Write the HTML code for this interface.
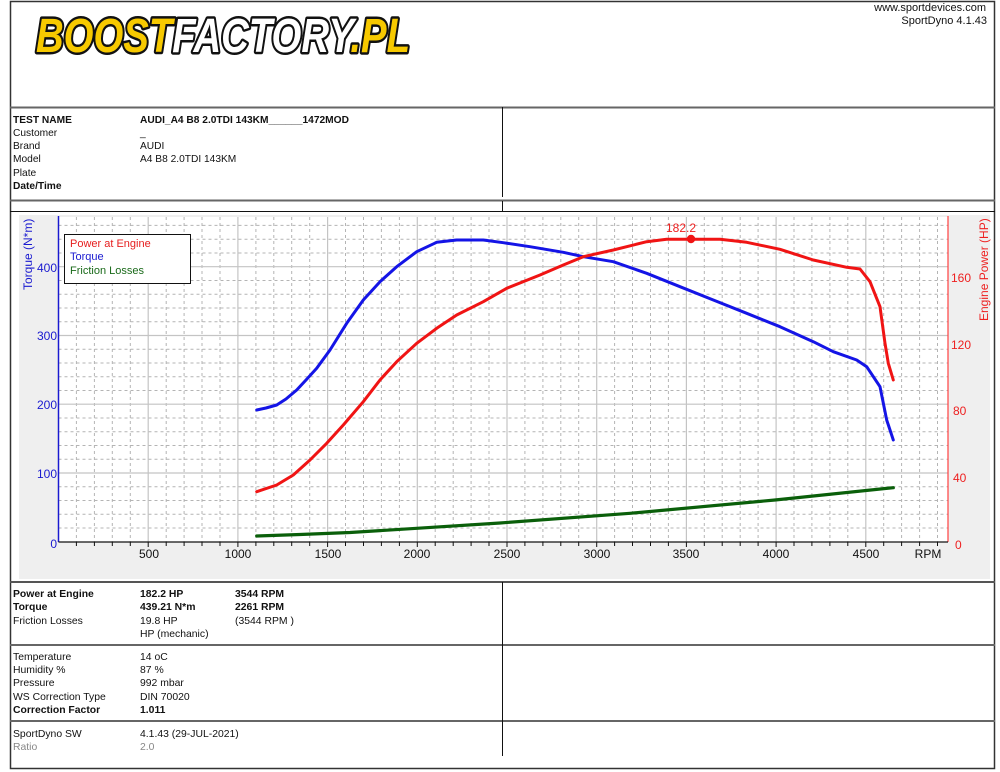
<!DOCTYPE html>
<html><head><meta charset="utf-8"><style>
html,body{margin:0;padding:0;background:#fff;}
svg{display:block;}
text{font-family:"Liberation Sans",sans-serif;}
</style></head><body>
<svg width="1000" height="772" viewBox="0 0 1000 772" xmlns="http://www.w3.org/2000/svg">
<rect x="0" y="0" width="1000" height="772" fill="#fff"/>
<!-- Logo -->
<text x="36" y="52" font-size="48" font-weight="bold" font-style="italic" textLength="374" lengthAdjust="spacingAndGlyphs" stroke="#111" stroke-width="5" stroke-linejoin="round" paint-order="stroke"><tspan fill="#f7c900">BOOST</tspan><tspan fill="#ffffff">FACTORY</tspan><tspan fill="#f7c900">.PL</tspan></text>
<text x="986" y="11" font-size="11" text-anchor="end" fill="#111">www.sportdevices.com</text>
<text x="987" y="24" font-size="11" text-anchor="end" fill="#111">SportDyno 4.1.43</text>

<!-- chart grey panel -->
<rect x="19" y="215" width="971" height="364" fill="#efefef"/>
<rect x="58.5" y="217" width="889.5" height="325" fill="#fff"/>
<g stroke="#b4b4b4" stroke-width="1" stroke-dasharray="3,3" fill="none">
<path d="M76.4 217V542M94.4 217V542M112.3 217V542M130.3 217V542M166.2 217V542M184.1 217V542M202.0 217V542M220.0 217V542M255.9 217V542M273.8 217V542M291.7 217V542M309.7 217V542M345.5 217V542M363.5 217V542M381.4 217V542M399.4 217V542M435.2 217V542M453.2 217V542M471.1 217V542M489.0 217V542M524.9 217V542M542.9 217V542M560.8 217V542M578.7 217V542M614.6 217V542M632.5 217V542M650.5 217V542M668.4 217V542M704.3 217V542M722.2 217V542M740.2 217V542M758.1 217V542M794.0 217V542M811.9 217V542M829.9 217V542M847.8 217V542M883.7 217V542M901.6 217V542M919.6 217V542M937.5 217V542"/>
<path d="M58.5 528H948M58.5 514.2H948M58.5 500.5H948M58.5 486.7H948M58.5 459.2H948M58.5 445.5H948M58.5 431.7H948M58.5 418H948M58.5 390.5H948M58.5 376.7H948M58.5 363H948M58.5 349.2H948M58.5 321.7H948M58.5 308H948M58.5 294.2H948M58.5 280.5H948M58.5 253H948M58.5 239.2H948M58.5 225.4H948"/>
</g>
<g stroke="#c4c4c4" stroke-width="1.2" fill="none">
<path d="M148.2 217V542M237.9 217V542M327.6 217V542M417.3 217V542M507 217V542M596.7 217V542M686.4 217V542M776.1 217V542M865.8 217V542"/>
<path d="M58.5 473H948M58.5 404.2H948M58.5 335.5H948M58.5 266.7H948"/>
</g>
<!-- axes -->
<line x1="58.5" y1="216" x2="58.5" y2="542" stroke="#1a1ad0" stroke-width="1.5"/>
<line x1="948" y1="216" x2="948" y2="542" stroke="#ff4040" stroke-width="1.2"/>
<line x1="58.5" y1="542" x2="948" y2="542" stroke="#111" stroke-width="1.2"/>
<g stroke="#111" stroke-width="1">
<path d="M76.4 542v4M94.4 542v4M112.3 542v4M130.3 542v4M148.2 542v5M166.2 542v4M184.1 542v4M202.0 542v4M220.0 542v4M237.9 542v5M255.9 542v4M273.8 542v4M291.7 542v4M309.7 542v4M327.6 542v5M345.5 542v4M363.5 542v4M381.4 542v4M399.4 542v4M417.3 542v5M435.2 542v4M453.2 542v4M471.1 542v4M489.0 542v4M507 542v5M524.9 542v4M542.9 542v4M560.8 542v4M578.7 542v4M596.7 542v5M614.6 542v4M632.5 542v4M650.5 542v4M668.4 542v4M686.4 542v5M704.3 542v4M722.2 542v4M740.2 542v4M758.1 542v4M776.1 542v5M794.0 542v4M811.9 542v4M829.9 542v4M847.8 542v4M865.8 542v5M883.7 542v4M901.6 542v4M919.6 542v4M937.5 542v4"/>
</g>
<!-- x labels -->
<g font-size="12" fill="#111" text-anchor="middle">
<text x="149" y="558">500</text><text x="238" y="558">1000</text><text x="328" y="558">1500</text><text x="417" y="558">2000</text><text x="507" y="558">2500</text><text x="597" y="558">3000</text><text x="686" y="558">3500</text><text x="776" y="558">4000</text><text x="866" y="558">4500</text><text x="928" y="558">RPM</text>
</g>
<!-- left labels -->
<g font-size="12" fill="#1a1ad0" text-anchor="end">
<text x="57" y="548">0</text><text x="57" y="478">100</text><text x="57" y="409">200</text><text x="57" y="340">300</text><text x="57" y="272">400</text>
</g>
<text transform="translate(32,290) rotate(-90)" font-size="12" fill="#1a1ad0">Torque (N*m)</text>
<!-- right labels -->
<g font-size="12" fill="#ee2020" text-anchor="start">
<text x="955" y="549">0</text><text x="953" y="482">40</text><text x="953" y="415">80</text><text x="951" y="349">120</text><text x="951" y="282">160</text>
</g>
<text transform="translate(988,321) rotate(-90)" font-size="12" fill="#ee2020">Engine Power (HP)</text>

<!-- curves -->
<polyline fill="none" stroke="#0a5f0a" stroke-width="3.2" stroke-linejoin="round" stroke-linecap="round" points="256.7,536 300,534.5 350,532.5 416.7,528.3 500,523 630,513.3 775,500 893.3,487.7"/>
<polyline fill="none" stroke="#1414e6" stroke-width="3" stroke-linejoin="round" stroke-linecap="round" points="256.7,410 266,408 276.7,405 286,399 296.7,390 306,380 316.7,368.3 330,350 346.7,323.3 363.3,300 380,281.7 396.7,266.7 416.7,251.7 436.7,242.3 456.7,240 483.3,240 503.3,242.7 530,246.7 563.3,252.3 583.3,256.7 613.3,261.7 646.7,273.3 680,286.7 713.3,300 746.7,313.3 780,326.7 813.3,341.7 833.3,351.7 856.7,360 866.7,366.7 880,386.7 886.7,420 893.3,440"/>
<polyline fill="none" stroke="#f01414" stroke-width="3" stroke-linejoin="round" stroke-linecap="round" points="256.7,491.7 276.7,485 293.3,475 310,460 326.7,443.3 343.3,425 363.3,401.7 380,380 396.7,361.7 416.7,343.3 436.7,328.3 456.7,315 483.3,301.7 506.7,288.3 540,275 563.3,265 583.3,256.7 613.3,250 646.7,241.7 666.7,239.3 720,239.3 746.7,242.3 780,249.3 813.3,260 846.7,267.3 860,269 870,281.7 880,306.7 885,343.3 888.3,363.3 893.3,380"/>
<circle cx="691" cy="239" r="4.2" fill="#f01414"/>
<text x="681" y="232" font-size="12" fill="#ee2020" text-anchor="middle">182.2</text>

<!-- legend -->
<rect x="64.5" y="234.5" width="126" height="49" fill="#fff" stroke="#111" stroke-width="1"/>
<text x="70" y="247" font-size="11" fill="#e61e1e">Power at Engine</text>
<text x="70" y="260" font-size="11" fill="#1a1ad0">Torque</text>
<text x="70" y="274" font-size="11" fill="#1a6a1a">Friction Losses</text>

<!-- table lines -->
<rect x="10.5" y="1.5" width="984" height="767" fill="none" stroke="#333" stroke-width="1.5"/>
<line x1="10" y1="107.5" x2="995" y2="107.5" stroke="#666" stroke-width="2"/>
<line x1="10" y1="200.5" x2="995" y2="200.5" stroke="#666" stroke-width="2"/>
<line x1="10" y1="211.5" x2="995" y2="211.5" stroke="#111" stroke-width="1"/>
<line x1="10" y1="582" x2="995" y2="582" stroke="#555" stroke-width="2"/>
<line x1="10" y1="645" x2="995" y2="645" stroke="#666" stroke-width="2"/>
<line x1="10" y1="721" x2="995" y2="721" stroke="#666" stroke-width="2"/>
<line x1="502.5" y1="107" x2="502.5" y2="197" stroke="#111" stroke-width="1"/>
<line x1="502.5" y1="201" x2="502.5" y2="211" stroke="#111" stroke-width="1"/>
<line x1="502.5" y1="582" x2="502.5" y2="756" stroke="#111" stroke-width="1"/>

<!-- header info -->
<g font-size="10.2" fill="#111">
<text x="13" y="123" font-weight="bold">TEST NAME</text>
<text x="140" y="123" font-weight="bold">AUDI_A4 B8 2.0TDI 143KM______1472MOD</text>
<text x="13" y="136">Customer</text><text x="140" y="136">_</text>
<text x="13" y="149">Brand</text><text x="140" y="149">AUDI</text>
<text x="13" y="162">Model</text><text x="140" y="162">A4 B8 2.0TDI 143KM</text>
<text x="13" y="176">Plate</text>
<text x="13" y="189" font-weight="bold">Date/Time</text>
</g>
<g font-size="10.4" fill="#111">
<text x="13" y="597" font-weight="bold">Power at Engine</text><text x="140" y="597" font-weight="bold">182.2 HP</text><text x="235" y="597" font-weight="bold">3544 RPM</text>
<text x="13" y="610" font-weight="bold">Torque</text><text x="140" y="610" font-weight="bold">439.21 N*m</text><text x="235" y="610" font-weight="bold">2261 RPM</text>
<text x="13" y="624">Friction Losses</text><text x="140" y="624">19.8 HP</text><text x="235" y="624">(3544 RPM )</text>
<text x="140" y="637">HP (mechanic)</text>

<text x="13" y="660">Temperature</text><text x="140" y="660">14 oC</text>
<text x="13" y="673">Humidity %</text><text x="140" y="673">87 %</text>
<text x="13" y="686">Pressure</text><text x="140" y="686">992 mbar</text>
<text x="13" y="700">WS Correction Type</text><text x="140" y="700">DIN 70020</text>
<text x="13" y="713" font-weight="bold">Correction Factor</text><text x="140" y="713" font-weight="bold">1.011</text>

<text x="13" y="737">SportDyno SW</text><text x="140" y="737">4.1.43 (29-JUL-2021)</text>
<text x="13" y="750" fill="#888">Ratio</text><text x="140" y="750" fill="#888">2.0</text>
</g>
</svg>
</body></html>
